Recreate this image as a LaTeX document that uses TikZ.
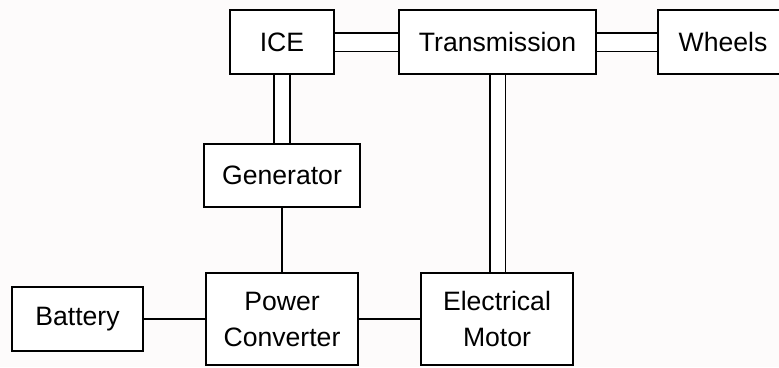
\documentclass[tikz,border=0pt]{standalone}
\usepackage{fontspec}
\setmainfont{Liberation Sans}
\usepackage{xcolor}
\usepackage{tikz}
\usetikzlibrary{positioning}

\definecolor{pagebg}{RGB}{253,251,251}

\begin{document}
\begin{tikzpicture}[
    x=1pt, y=-1pt,
    block/.style={draw, fill=white, line width=1.6pt, inner sep=0pt, outer sep=0pt,
                  minimum height=64pt, align=center,
                  font=\fontsize{26.6}{36}\selectfont},
    wire/.style={line width=1.6pt, shorten >=0.8pt, shorten <=0.8pt},
    shaft/.style={wire, double=white, double distance=17pt},
    vshaft/.style={wire, double=white, double distance=14pt}
]
\clip (0,0) rectangle (779,367);
\fill[pagebg] (0,0) rectangle (779,367);

\node[block, minimum width=104pt] (ice) at (282,42) {ICE};
\node[block, minimum width=197pt, right=65pt of ice] (trans) {Transmission};
\node[block, minimum width=130pt, right=62pt of trans] (wheels) {Wheels};
\node[block, minimum width=156pt, minimum height=63pt, below=70pt of ice] (gen) {Generator};
\node[block, minimum width=152pt, minimum height=92pt, below=66pt of gen] (conv) {Power\\Converter};
\node[block, minimum width=152pt, minimum height=92pt, right=63pt of conv] (motor) {Electrical\\Motor};
\node[block, minimum width=131pt, left=63pt of conv] (batt) {Battery};

% mechanical links
\draw[shaft] (ice) -- (trans);
\draw[shaft] (trans) -- (wheels);
\draw[vshaft] (ice) -- (gen);
\draw[vshaft] (trans.south) -- (trans.south |- motor.north);

% electrical links
\draw[wire] (gen) -- (conv);
\draw[wire] (batt) -- (conv);
\draw[wire] (conv) -- (motor);
\end{tikzpicture}
\end{document}
